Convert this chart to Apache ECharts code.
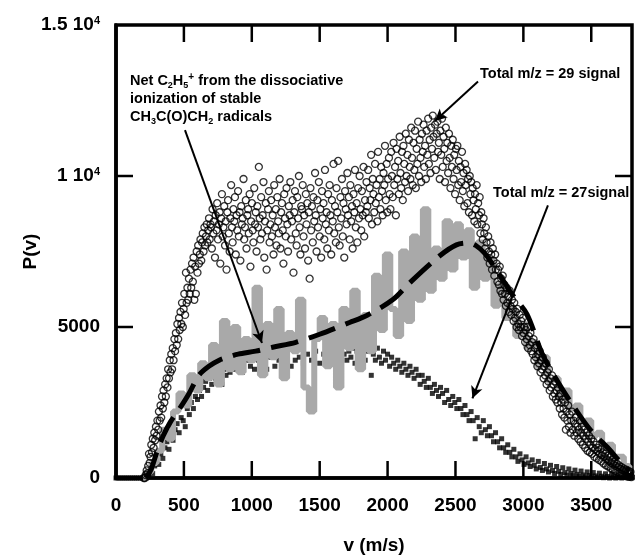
<!DOCTYPE html>
<html>
<head>
<meta charset="utf-8">
<script src="https://cdn.jsdelivr.net/npm/echarts@6/dist/echarts.min.js"></script>
<style>
  html, body { margin: 0; padding: 0; background: #fff; }
  #chart { width: 635px; height: 560px; }
</style>
</head>
<body>
<div id="chart"></div>
<script>
// Total m/z = 29 signal (open circles), [v, P(v)]
var m29 = [
  [205,0],[212,0],[219,100],[226,250],[231,150],[237,400],[243,800],[248,500],[254,700],[260,1100],
  [265,850],[271,1300],[277,1000],[282,1500],[288,1250],[294,1700],[299,1400],[305,1900],[311,1600],[316,2200],
  [322,1900],[328,2400],[333,2000],[339,2700],[345,2300],[350,2900],[356,2500],[362,3100],[367,2700],[373,3300],
  [379,3000],[384,3600],[390,3300],[396,3900],[401,3500],[407,4100],[413,3600],[418,4300],[424,3900],[430,4600],
  [435,4200],[441,4800],[447,4400],[452,5100],[458,4600],[464,5300],[469,4900],[475,5500],[481,5100],[486,5800],
  [492,5000],[498,5600],[503,6100],[509,5400],[515,6800],[520,5800],[526,6300],[532,5900],[537,6600],[543,6100],
  [549,6900],[554,6300],[560,7100],[566,6500],[571,7300],[577,5900],[583,7000],[588,6100],[594,7500],[600,6800],
  [605,7700],[611,7100],[617,7400],[622,7900],[628,7200],[634,7800],[639,8100],[645,7500],[651,8300],[656,7700],
  [662,8000],[668,8400],[673,7800],[679,8200],[685,8600],[690,7900],[696,8400],
  [700,8300],[706,7600],[711,8900],[717,8100],[722,8500],[729,7300],[734,8700],[740,8200],[745,9100],[751,7900],
  [757,8400],[763,8800],[768,7100],[774,8600],[780,9400],[786,8000],[791,8300],[797,9000],[803,7700],[808,8500],
  [814,6900],[820,8800],[825,9200],[831,8100],[837,7500],[842,8600],[848,9700],[854,8300],[859,7800],[865,8900],
  [871,8500],[876,9300],[882,7400],[888,8700],[893,8200],[899,9500],[905,8000],[910,8800],[916,7200],[922,9000],
  [927,8400],[933,8600],[939,9900],[944,7900],[950,8300],[956,9200],[961,7600],[967,8700],[973,8900],[978,8100],
  [984,9400],[990,7000],[995,8500],[1001,9100],[1007,8200],[1012,7800],[1018,9600],[1024,8400],[1029,8800],[1035,7500],
  [1041,9000],[1046,8300],[1052,10300],[1058,8600],[1063,7900],[1069,9300],[1075,8100],[1080,8700],[1086,9800],[1092,7300],
  [1097,8500],[1103,9100],[1109,6900],[1114,8200],[1120,8900],[1126,9500],[1131,7800],[1137,8400],[1143,9200],[1148,8000],
  [1154,8700],[1160,7400],[1165,9700],[1171,8300],[1177,8900],[1182,7700],[1188,9300],[1194,8500],[1199,8100],[1205,9900],
  [1211,7600],[1216,8800],[1222,9100],[1228,8200],[1233,7100],[1239,9400],[1245,8600],[1250,8000],[1256,9600],[1262,8400],
  [1267,7500],[1273,9000],[1279,8700],[1284,9800],[1290,7900],[1296,8500],[1301,9200],[1307,6800],[1313,8800],[1318,9500],
  [1324,8100],[1330,7700],[1335,9300],[1341,8600],[1347,10000],[1352,8300],[1358,7400],[1364,9000],[1369,8900],[1375,9700],
  [1381,8000],[1386,8700],[1392,7600],[1398,9400],[1403,8400],[1409,9100],[1415,7200],[1420,8800],[1426,6600],[1432,9600],
  [1437,8200],[1443,9000],[1449,7800],[1454,9300],[1460,8500],[1466,10100],[1471,8700],[1477,7500],[1483,9200],[1488,8300],
  [1494,9800],[1500,8000],[1505,8900],[1511,7300],[1517,9500],[1522,8600],[1528,9100],[1534,7900],[1539,10200],[1545,8400],
  [1551,8800],[1556,7600],[1562,9400],[1568,8200],[1573,9700],[1579,8700],[1585,7400],[1590,9200],[1596,8500],[1602,10400],
  [1607,8100],[1613,9000],[1619,7800],[1624,9600],[1630,8800],[1636,10500],[1641,8300],[1647,7700],[1653,9300],[1658,8600],
  [1664,9900],[1670,8000],[1675,9100],[1681,7300],[1687,9500],[1692,8900],[1698,8400],[1704,10100],[1709,8700],[1715,9300],
  [1721,7900],[1726,9700],[1732,8500],[1738,9000],[1743,7600],[1749,9400],[1755,8800],[1760,10200],[1766,8300],[1772,9100],
  [1777,7800],[1783,9600],[1789,8600],[1794,10000],[1800,8900],[1806,8200],[1811,9500],[1817,8700],[1823,10300],[1828,8000],
  [1834,9200],[1840,8800],[1845,9800],
  [1851,9000],[1857,10200],[1862,8600],[1868,9600],[1874,9200],[1879,10700],[1885,8400],[1891,9900],[1896,9400],[1902,8800],
  [1908,10400],[1913,9100],[1919,9700],[1925,8500],[1930,10800],[1936,9300],[1942,9900],[1947,8900],[1953,10300],[1959,9500],
  [1964,8700],[1970,10100],[1976,9700],[1981,11000],[1987,9200],[1993,10400],[1998,8800],[2004,9900],[2010,10600],[2015,9400],
  [2021,8900],[2027,10800],[2032,10000],[2038,9300],[2044,11100],[2049,9700],[2055,10300],[2061,8700],[2066,10900],[2072,9900],
  [2078,10500],[2083,9400],[2089,11300],[2095,10100],[2100,9600],[2106,10800],[2112,9200],[2117,11000],[2123,10400],[2129,9800],
  [2134,11400],[2140,10000],[2146,10700],[2151,9500],[2157,11200],[2163,10300],[2168,9900],[2174,11600],[2180,10600],[2185,9700],
  [2191,11100],[2197,10200],[2202,11500],[2208,9600],[2214,10900],[2219,10400],[2225,11800],[2231,10000],[2236,11200],[2242,10600],
  [2248,9800],[2253,11400],[2259,10800],[2265,11700],[2270,10300],[2276,11000],[2282,9900],[2287,11500],[2293,10700],[2299,11900],
  [2304,10400],[2310,11200],[2316,10100],[2321,11600],[2327,10900],[2333,12000],[2338,11300],[2344,10600],[2350,11700],[2355,10200],
  [2361,11400],[2367,11800],[2372,10800],[2378,11100],[2384,9900],[2389,11500],[2395,10700],[2401,11900],[2406,10300],[2412,11300],
  [2418,10900],[2423,9800],[2429,11600],[2435,10500],[2440,11100],[2446,10100],[2452,11400],[2457,10600],[2463,9600],[2469,11000],
  [2474,10300],[2480,11200],[2486,9900],[2491,10700],[2497,9400],[2503,10900],[2508,10200],[2514,11000],[2520,9700],[2525,10500],
  [2531,9200],[2537,10300],[2542,9800],[2548,10800],[2554,9500],[2559,10100],[2565,9000],[2571,10400],[2576,9700],[2582,10200],
  [2588,9100],[2593,9900],[2599,8800],[2605,10000],[2610,9400],[2616,9800],[2622,8700],[2627,9600],[2633,9200],[2639,8500],
  [2644,9400],[2650,8900],[2656,9700],[2661,8400],[2667,9100],[2673,8700],[2678,9300],[2684,8100],[2690,8800],[2695,8400],
  [2701,7900],[2707,8600],[2712,8100],[2718,7600],[2724,8300],[2729,7800],[2735,7300],[2741,8000],[2746,7500],[2752,7100],
  [2758,7800],[2763,7400],[2769,6900],[2775,7600],[2780,7200],[2786,6700],[2792,7400],[2797,6900],[2803,7100],[2809,6500],
  [2814,6900],[2820,6400],[2826,7000],[2831,6200],[2837,6600],[2843,6100],[2848,6700],[2854,5900],[2860,6400],[2865,6100],
  [2871,5700],[2877,6300],[2882,5800],[2888,6000],[2894,5500],[2899,6200],[2905,5700],[2911,5400],[2916,5900],[2922,5600],
  [2928,5200],[2933,5800],[2939,5300],[2945,5500],[2950,5000],[2956,5600],[2962,5100],[2967,4900],[2973,5400],[2979,5000],
  [2984,5200],[2990,4700],[2996,5300],[3001,4800],[3007,5000],[3013,4500],[3018,4900],[3024,4600],[3030,5000],[3035,4300],
  [3041,4700],[3047,4400],[3052,4800],[3058,4200],[3064,4500],[3069,4100],[3075,4600],[3081,3900],[3086,4300],[3092,4000],
  [3098,4400],[3103,3700],[3109,4100],[3115,3800],[3120,4200],[3126,3500],[3132,3900],[3137,3600],[3143,4000],[3149,3300],
  [3154,3700],[3160,3400],[3166,3800],[3171,3100],[3177,3500],[3183,3200],[3188,3600],[3194,2900],[3200,3300],[3205,3000],
  [3211,3400],[3217,2700],[3222,3100],[3228,2800],[3234,3200],[3239,2600],[3245,2900],[3251,2500],[3256,3000],[3262,2700],
  [3268,2300],[3273,2800],[3279,2500],[3285,2100],[3290,2600],[3296,2300],[3302,2000],[3307,2500],[3313,1600],[3319,2200],
  [3324,1900],[3330,2400],[3336,1700],[3341,2100],[3347,1500],[3353,1900],[3358,2200],[3364,1600],[3370,1900],[3375,1400],
  [3381,1800],[3387,2000],[3392,1500],[3398,1700],[3404,1300],[3409,1600],[3415,1900],[3421,1200],[3426,1500],[3432,1700],
  [3438,1100],[3443,1400],[3449,1600],[3455,1000],[3460,1300],[3466,1500],[3472,900],[3477,1200],[3483,1400],[3489,850],
  [3494,1100],[3500,1300],[3506,800],[3511,1000],[3517,1200],[3523,700],[3528,950],[3534,1100],[3540,650],[3545,900],
  [3551,1000],[3557,600],[3562,800],[3568,950],[3574,550],[3579,750],[3585,850],[3591,480],[3596,700],[3602,800],
  [3608,420],[3613,620],[3619,730],[3625,380],[3630,560],[3636,680],[3642,330],[3647,500],[3653,600],[3659,280],
  [3664,450],[3670,540],[3676,240],[3681,400],[3687,480],[3693,200],[3698,350],[3704,420],[3710,160],[3715,300],
  [3721,370],[3727,120],[3732,260],[3738,320],[3744,90],[3749,220],[3755,280],[3761,60],[3766,180],[3772,240],
  [3778,40],[3783,150],[3789,200],[3795,30]
];

// Total m/z = 27 signal (small filled squares), [v, P(v)]
var m27 = [
  [0,0],[15,0],[30,0],[45,0],[60,0],[75,0],[90,0],[105,0],[120,0],[135,0],[150,0],[165,0],[180,0],[195,0],[210,0],[225,0],
  [240,100],[255,250],[270,150],[285,400],[300,600],[315,450],[330,800],[345,650],[360,1000],[375,1200],[390,950],[405,1400],
  [420,1250],[435,1600],[450,1800],[465,1500],[480,2000],[495,1900],[510,1700],[525,2300],[540,2100],[555,2500],[570,2300],
  [585,2700],[600,2600],[615,2900],[630,2700],[645,3000],[660,3200],[675,2900],[690,3300],[705,3100],[720,3400],[735,3300],
  [750,3500],[765,3200],[780,3100],[795,3600],[810,3400],[825,3700],[840,3500],[855,3700],
  [870,3600],[900,3800],[930,3500],[960,3900],[990,3700],[1020,3600],[1050,3900],[1080,3800],[1110,3600],[1140,4000],
  [1170,3700],[1200,3900],[1230,3800],[1260,4100],[1290,3700],[1320,3900],[1350,4000],[1380,3800],[1410,4100],[1440,3900],
  [1470,4200],[1500,3800],[1530,4100],[1560,4000],[1590,4200],[1620,3900],[1650,4300],[1680,4100],
  [1700,3900],[1715,4200],[1730,4000],[1745,4300],[1760,3800],[1775,4200],[1790,4400],[1805,4000],[1820,4300],[1835,3900],
  [1850,4200],[1865,4450],[1880,3400],[1895,4100],[1910,3900],[1925,4300],[1940,4000],[1955,3800],[1970,4200],[1985,3900],
  [2000,4100],[2015,3700],[2030,4000],[2045,3800],[2060,3600],[2075,3900],[2090,3700],[2105,3500],[2120,3800],[2135,3600],
  [2150,3400],[2165,3700],[2180,3500],[2195,3300],[2210,3600],[2225,3400],[2240,3100],[2255,3400],[2270,3200],[2285,3000],
  [2300,3300],[2315,3000],[2330,2800],[2345,3100],[2360,2900],[2375,2700],[2390,3000],[2405,2800],[2420,2500],[2435,2900],
  [2450,2600],[2465,2400],[2480,2700],[2495,2500],[2510,2300],[2525,2600],[2540,2300],[2555,2100],[2570,2400],[2585,2100],
  [2600,1900],[2615,2200],[2630,1900],[2645,1300],[2660,2000],[2675,1700],[2690,1500],[2705,1900],[2720,1600],[2735,1400],
  [2750,1700],[2765,1400],[2780,1200],[2795,1500],[2810,1200],[2825,1000],[2840,1300],[2855,1000],[2870,850],[2885,1100],
  [2900,850],[2915,700],[2930,950],[2945,700],[2960,550],[2975,800],[2990,600],[3005,450],[3020,700],[3035,500],
  [3050,380],[3065,600],[3080,420],[3095,300],[3110,550],[3125,350],[3140,250],[3155,480],[3170,300],[3185,200],
  [3200,420],[3215,250],[3230,150],[3245,380],[3260,220],[3275,120],[3290,340],[3305,180],[3320,100],[3335,300],
  [3350,150],[3365,80],[3380,260],[3395,120],[3410,60],[3425,230],[3440,100],[3455,40],[3470,200],[3485,80],
  [3500,30],[3515,180],[3530,70],[3545,20],[3560,160],[3575,60],[3590,10],[3605,140],[3620,50],[3635,0],
  [3650,130],[3665,40],[3680,0],[3695,110],[3710,30],[3725,0],[3740,100],[3755,20],[3770,0],[3785,90],[3800,10]
];

// Net C2H5+ (grey histogram), [v, P(v)]
var netC2H5 = [
  [200,0],[240,200],[280,500],[320,900],[360,1600],[400,1300],[440,2200],[480,2800],[520,2400],[560,3400],
  [600,2900],[640,3800],[680,3300],[720,4400],[760,3100],[800,5200],[840,3600],[880,5000],[920,3500],[960,4600],
  [1000,3900],[1040,6300],[1080,3400],[1120,5100],[1160,4000],[1200,5600],[1240,3300],[1280,4800],[1320,4200],[1360,5900],
  [1400,3000],[1440,2200],[1480,4600],[1520,5300],[1560,3700],[1600,5100],[1640,3000],[1680,5600],[1720,4300],[1760,6200],
  [1800,3600],[1840,5400],[1880,4200],[1920,6700],[1960,4900],[2000,7400],[2040,5600],[2080,4700],[2120,7500],[2160,5200],
  [2200,8000],[2240,5900],[2280,8900],[2320,6200],[2360,7600],[2400,6600],[2440,8500],[2480,6900],[2520,8400],[2560,7300],
  [2600,8200],[2640,6300],[2680,7800],[2720,6600],[2760,7200],[2800,5700],[2840,6400],[2880,5300],[2920,5600],[2960,4700],
  [3000,5100],[3040,4300],[3080,4500],[3120,3700],[3160,4000],[3200,3200],[3240,3300],[3280,2700],[3320,2900],[3360,2300],
  [3400,2400],[3440,1800],[3480,1900],[3520,1400],[3560,1500],[3600,1000],[3640,1100],[3680,700],[3720,700],[3760,400],[3800,300]
];

// Fit to net signal (thick dashed line), [v, P(v)]
var fitNet = [
  [220,0],[260,300],[300,850],[346,1380],[400,1850],[463,2260],[537,2790],[610,3400],[684,3700],[760,3900],[823,4000],
  [900,4100],[1029,4200],[1154,4330],[1324,4490],[1500,4760],[1720,5150],[1846,5380],[2037,5900],[2162,6460],[2382,7350],
  [2507,7720],[2603,7780],[2650,7700],[2713,7450],[2800,6900],[2919,6070],[3027,5420],[3140,4100],[3265,3100],[3380,2300],
  [3490,1610],[3632,950],[3700,600],[3780,230]
];

var xMin = 0, xMax = 3800, yMin = 0, yMax = 15000;
var xTicks = [500, 1000, 1500, 2000, 2500, 3000, 3500];
var yInnerTicks = [5000, 10000];
var yTicks = [0, 5000, 10000, 15000];
var yTickText = ['0', '5000', '{a|1 10}{s|4}', '{a|1.5 10}{s|4}'];

var FONT = '"Liberation Sans", Arial, sans-serif';
var TICK_LEN = 17;

var chart = echarts.init(document.getElementById('chart'));

function boldText() { return { color: '#000', fontSize: 19, fontWeight: 'bold', fontFamily: FONT }; }

var xLabel = boldText();
xLabel.margin = 18;
xLabel.formatter = function (v) { return v % 500 === 0 ? String(v) : ''; };

var yLabel = boldText();
yLabel.margin = 16;
yLabel.formatter = function (v) { var i = yTicks.indexOf(v); return i < 0 ? '' : yTickText[i]; };
yLabel.rich = {
  a: { fontSize: 19, fontWeight: 'bold', fontFamily: FONT, color: '#000' },
  s: { fontSize: 11, fontWeight: 'bold', fontFamily: FONT, color: '#000', verticalAlign: 'top', lineHeight: 11 }
};

var labels = [{
  type: 'text', left: 130, top: 72, z: 100,
  style: {
    text: '{n|Net C}{b|2}{n|H}{b|5}{p|+}{n| from the dissociative}\n{n|ionization of stable}\n{n|CH}{b|3}{n|C(O)CH}{b|2}{n| radicals}',
    rich: {
      n: { fontSize: 14.5, fontWeight: 'bold', fontFamily: FONT, fill: '#000', lineHeight: 18 },
      b: { fontSize: 9, fontWeight: 'bold', fontFamily: FONT, fill: '#000', lineHeight: 9, verticalAlign: 'bottom' },
      p: { fontSize: 10, fontWeight: 'bold', fontFamily: FONT, fill: '#000', lineHeight: 10, verticalAlign: 'top' }
    }
  }
}, {
  type: 'text', left: 480, top: 66, z: 100,
  style: { text: 'Total m/z = 29 signal', fontSize: 14.5, fontWeight: 'bold', fontFamily: FONT, fill: '#000' }
}, {
  type: 'text', left: 493, top: 185, z: 100,
  style: { text: 'Total m/z = 27signal', fontSize: 14.5, fontWeight: 'bold', fontFamily: FONT, fill: '#000' }
}];

var option = {
  animation: false,
  backgroundColor: '#fff',
  grid: { left: 116, top: 25, width: 516, height: 457, show: true, borderColor: '#000', borderWidth: 3.5, backgroundColor: 'transparent' },
  xAxis: {
    type: 'value', min: xMin, max: xMax, interval: 500, position: 'bottom',
    name: 'v (m/s)', nameLocation: 'middle', nameGap: 58, nameTextStyle: boldText(), nameMoveOverlap: false,
    axisLine: { show: true, onZero: false, lineStyle: { color: '#000', width: 3.5 } },
    axisTick: { show: false }, splitLine: { show: false },
    axisLabel: xLabel
  },
  yAxis: {
    type: 'value', min: yMin, max: yMax, interval: 5000, position: 'left',
    name: 'P(v)', nameLocation: 'middle', nameGap: 76, nameRotate: 90, nameTextStyle: boldText(), nameMoveOverlap: false,
    axisLine: { show: true, onZero: false, lineStyle: { color: '#000', width: 3.5 } },
    axisTick: { show: false }, splitLine: { show: false },
    axisLabel: yLabel
  },
  series: [{
    name: 'Total m/z = 27 signal', type: 'scatter', data: m27, z: 2,
    symbol: 'rect', symbolSize: 5, itemStyle: { color: '#000' }
  }, {
    name: 'Net C2H5+', type: 'line', data: netC2H5, z: 3, step: 'middle',
    showSymbol: false, lineStyle: { color: '#a9a9a9', width: 6 }
  }, {
    name: 'Total m/z = 29 signal', type: 'scatter', data: m29, z: 4,
    symbol: 'circle', symbolSize: 7,
    itemStyle: { color: 'rgba(0,0,0,0)', borderColor: '#000', borderWidth: 1.3 }
  }, {
    name: 'fit', type: 'line', data: fitNet, z: 5, smooth: 0.3,
    showSymbol: false, lineStyle: { color: '#000', width: 5, type: [28, 11] },
    markLine: {
      silent: true, animation: false,
      symbol: ['none', 'arrow'], symbolSize: [9, 12],
      label: { show: false },
      lineStyle: { color: '#000', width: 2, type: 'solid' },
      data: [
        [{ coord: [508, 11520] }, { coord: [1075, 4470] }],
        [{ coord: [2666, 13130] }, { coord: [2349, 11820] }],
        [{ coord: [3181, 9030] }, { coord: [2625, 2640] }]
      ]
    }
  }],
  graphic: labels
};

chart.setOption(option);

// inward ticks on all four sides of the frame, placed through the chart's own axis scales
var tickLines = [];
function tick(x1, y1, x2, y2) {
  tickLines.push({ type: 'line', z: 100, silent: true, shape: { x1: x1, y1: y1, x2: x2, y2: y2 }, style: { stroke: '#000', lineWidth: 2.5 } });
}
xTicks.forEach(function (v) {
  var b = chart.convertToPixel({ gridIndex: 0 }, [v, yMin]);
  var t = chart.convertToPixel({ gridIndex: 0 }, [v, yMax]);
  tick(b[0], b[1], b[0], b[1] - TICK_LEN);
  tick(t[0], t[1], t[0], t[1] + TICK_LEN);
});
yInnerTicks.forEach(function (v) {
  var l = chart.convertToPixel({ gridIndex: 0 }, [xMin, v]);
  var r = chart.convertToPixel({ gridIndex: 0 }, [xMax, v]);
  tick(l[0], l[1], l[0] + TICK_LEN, l[1]);
  tick(r[0], r[1], r[0] - TICK_LEN, r[1]);
});
chart.setOption({ graphic: labels.concat(tickLines) });
</script>
</body>
</html>
